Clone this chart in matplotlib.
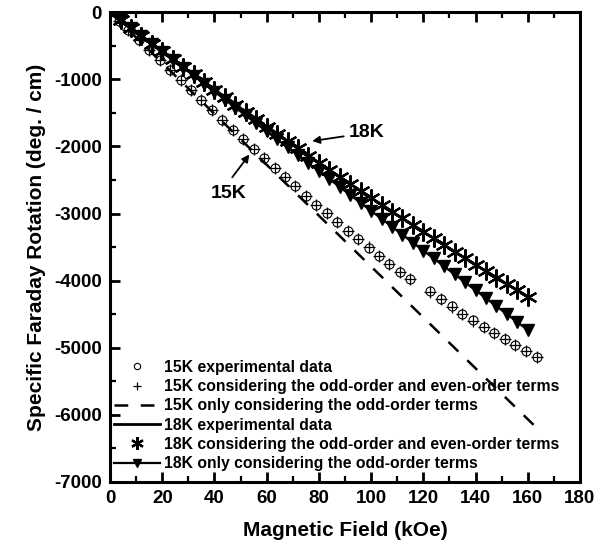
import matplotlib
matplotlib.use("Agg")
import matplotlib.pyplot as plt
from matplotlib.ticker import MultipleLocator

plt.rcParams['font.family'] = ['Liberation Sans', 'DejaVu Sans']
plt.rcParams['font.weight'] = 'bold'
plt.rcParams['axes.unicode_minus'] = False

# ---- data ----
x15 = [0, 3.5, 7, 11, 15, 19, 23, 27, 31, 35, 39, 43, 47, 51, 55, 59, 63, 67, 71, 75,
       79, 83, 87, 91, 95, 99, 103, 107, 111, 115,
       122.6, 126.7, 130.8, 134.9, 139, 143.1, 147.2, 151.3, 155.3, 159.4, 163.5]
exp15 = [0, -133, -265, -416, -567, -718, -867, -1017, -1165, -1313, -1461, -1607, -1752,
         -1896, -2039, -2180, -2321, -2460, -2597, -2733, -2867, -2999, -3130, -3258,
         -3385, -3509, -3631, -3752, -3869, -3975,
         -4160, -4275, -4385, -4490, -4590, -4685, -4780, -4870, -4960, -5050, -5140]
fit15 = [0, -130, -262, -412, -563, -714, -862, -1012, -1160, -1309, -1457, -1603, -1749,
         -1893, -2036, -2178, -2319, -2459, -2596, -2732, -2866, -2998, -3128, -3256,
         -3382, -3506, -3628, -3748, -3866, -3982,
         -4168, -4280, -4388, -4494, -4596, -4692, -4786, -4876, -4964, -5052, -5138]
xodd15 = [0, 20, 40, 60, 80, 100, 120, 140, 160, 163.5]
odd15 = [0, -758, -1516, -2274, -3032, -3790, -4548, -5306, -6064, -6197]

x18 = [0, 4, 8, 12, 16, 20, 24, 28, 32, 36, 40, 44, 48, 52, 56, 60, 64, 68, 72, 76, 80,
       84, 88, 92, 96, 100, 104, 108, 112, 116, 120, 124, 128, 132, 136, 140, 144, 148,
       152, 156, 160]
exp18 = [0, -118, -236, -352, -469, -584, -699, -814, -927, -1040, -1153, -1265, -1376,
         -1486, -1596, -1706, -1815, -1923, -2030, -2137, -2243, -2349, -2454, -2558,
         -2662, -2765, -2868, -2969, -3071, -3171, -3271, -3371, -3469, -3567, -3665,
         -3762, -3858, -3954, -4049, -4143, -4237]
fit18 = [0, -119, -237, -353, -470, -585, -700, -815, -928, -1041, -1154, -1266, -1377,
         -1487, -1597, -1707, -1816, -1924, -2031, -2138, -2244, -2350, -2455, -2559,
         -2663, -2766, -2869, -2970, -3072, -3172, -3272, -3372, -3470, -3568, -3666,
         -3763, -3859, -3955, -4050, -4144, -4238]
odd18 = [0, -118, -237, -355, -474, -592, -710, -829, -947, -1066, -1184, -1302, -1421,
         -1539, -1658, -1776, -1894, -2013, -2131, -2250, -2368, -2486, -2605, -2723,
         -2842, -2960, -3078, -3197, -3315, -3434, -3552, -3670, -3789, -3907, -4026,
         -4144, -4262, -4381, -4499, -4618, -4736]

labels = ["15K experimental data",
          "15K considering the odd-order and even-order terms",
          "15K only considering the odd-order terms",
          "18K experimental data",
          "18K considering the odd-order and even-order terms",
          "18K only considering the odd-order terms"]

fig = plt.figure(figsize=(6.15, 5.54), dpi=100)
ax = fig.add_axes([0.179, 0.130, 0.764, 0.848])

h1, = ax.plot(x15, exp15, linestyle='none', marker='o', markersize=6.5,
              markerfacecolor='none', markeredgecolor='black', markeredgewidth=0.8,
              label=labels[0])
h2, = ax.plot(x15, fit15, linestyle='none', marker='+', markersize=8,
              color='black', markeredgewidth=0.9, label=labels[1])
h3, = ax.plot(xodd15, odd15, linestyle=(0, (5.5, 5)), color='black', linewidth=1.8,
              label=labels[2])
h6, = ax.plot(x18, odd18, linestyle='-', color='black', linewidth=1.6, marker='v',
              markersize=8.5, label=labels[5])
h4, = ax.plot(x18, exp18, linestyle='-', color='black', linewidth=2.0, label=labels[3])
h5, = ax.plot(x18, fit18, linestyle='none', marker=(6, 2, 0), markersize=13,
              color='black', markeredgewidth=1.6, label=labels[4])

ax.set_xlim(0, 180)
ax.set_ylim(-7000, 0)
ax.xaxis.set_major_locator(MultipleLocator(20))
ax.xaxis.set_minor_locator(MultipleLocator(10))
ax.yaxis.set_major_locator(MultipleLocator(1000))
ax.yaxis.set_minor_locator(MultipleLocator(500))
ax.tick_params(axis='both', which='major', direction='in', length=7, width=2,
               labelsize=13.5, top=True, right=False, pad=6)
ax.tick_params(axis='both', which='minor', direction='in', length=4, width=1.6,
               top=True, right=False)
for lab in ax.get_xticklabels() + ax.get_yticklabels():
    lab.set_fontweight('bold')
for s in ax.spines.values():
    s.set_linewidth(2.2)

ax.set_xlabel("Magnetic Field (kOe)", fontsize=15, fontweight='bold', labelpad=10)
ax.set_ylabel("Specific Faraday Rotation (deg. / cm)", fontsize=15, fontweight='bold',
              labelpad=6)

ax.text(91.5, -1800, "18K", fontsize=14, fontweight='bold', ha='left', va='center')
ax.annotate("", xy=(77.4, -1920), xytext=(89.5, -1850),
            arrowprops=dict(arrowstyle='-|>', color='black', lw=1.3,
                            shrinkA=0, shrinkB=0, mutation_scale=11))
ax.text(45.3, -2700, "15K", fontsize=14, fontweight='bold', ha='center', va='center')
ax.annotate("", xy=(53.4, -2120), xytext=(46.8, -2460),
            arrowprops=dict(arrowstyle='-|>', color='black', lw=1.3,
                            shrinkA=0, shrinkB=0, mutation_scale=11))

leg = ax.legend(handles=[h1, h2, h3, h4, h5, h6], loc='lower left',
                bbox_to_anchor=(-0.015, 0.0), frameon=False, markerscale=0.7,
                handlelength=2.9, handletextpad=0.3, labelspacing=0.27,
                borderaxespad=0.3, prop={'weight': 'bold', 'size': 11.3})

fig.savefig("out.png", dpi=100)
